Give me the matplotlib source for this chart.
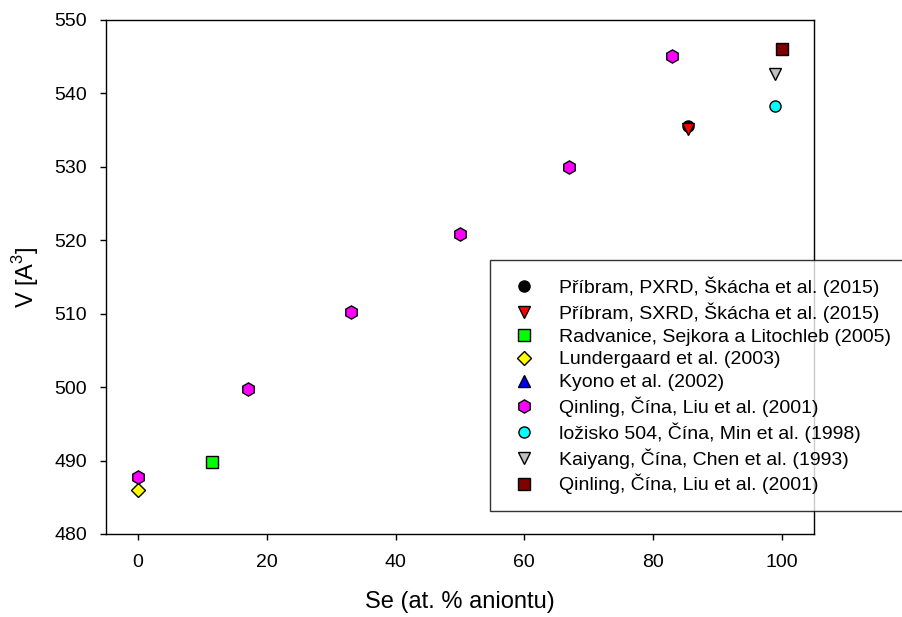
import matplotlib
matplotlib.use("Agg")
from matplotlib import pyplot as plt

plt.rcParams['font.family'] = ['Liberation Sans', 'DejaVu Sans']
plt.rcParams['mathtext.fontset'] = 'custom'
plt.rcParams['mathtext.rm'] = 'Liberation Sans'

# Se content (at. % of anions) and unit-cell volume V
pxrd_x, pxrd_v = [85.5], [535.5]
sxrd_x, sxrd_v = [85.5], [535.2]
radv_x, radv_v = [11.5], [489.8]
lund_x, lund_v = [0.0], [486.0]
kyono_x, kyono_v = [], []
qin_x = [0, 17, 33, 50, 67, 83]
qin_v = [487.7, 499.8, 510.3, 520.9, 530.0, 545.1]
min_x, min_v = [99.0], [538.3]
chen_x, chen_v = [99.0], [542.6]
qin2_x, qin2_v = [100.0], [546.0]

series = [
    (pxrd_x, pxrd_v, 'o', 'black', 8, u'Příbram, PXRD, Škácha et al. (2015)'),
    (sxrd_x, sxrd_v, 'v', 'red', 8.5, u'Příbram, SXRD, Škácha et al. (2015)'),
    (radv_x, radv_v, 's', '#00ff00', 8, u'Radvanice, Sejkora a Litochleb (2005)'),
    (lund_x, lund_v, 'D', 'yellow', 7, u'Lundergaard et al. (2003)'),
    (kyono_x, kyono_v, '^', 'blue', 8.5, u'Kyono et al. (2002)'),
    (qin_x, qin_v, 'h', 'magenta', 9.5, u'Qinling, Čína, Liu et al. (2001)'),
    (min_x, min_v, 'o', 'cyan', 8, u'ložisko 504, Čína, Min et al. (1998)'),
    (chen_x, chen_v, 'v', '#c0c0c0', 8.5, u'Kaiyang, Čína, Chen et al. (1993)'),
    (qin2_x, qin2_v, 's', '#800000', 8, u'Qinling, Čína, Liu et al. (2001)'),
]

fig = plt.figure(figsize=(9.03, 6.17), dpi=100)
ax = fig.add_axes([106/903, 1-534/617, (814-106)/903, (534-20)/617])

for x, v, m, c, ms, lab in series:
    ax.plot(x, v, linestyle='none', marker=m, markersize=ms,
            markerfacecolor=c, markeredgecolor='black', markeredgewidth=1,
            label=lab)

ax.set_xlim(-5, 105)
ax.set_ylim(480, 550)
ax.set_xticks([0, 20, 40, 60, 80, 100])
ax.set_yticks(range(480, 551, 10))
ax.tick_params(direction='out', length=4.5, width=1, labelsize=14)
ax.tick_params(axis='x', pad=10)
ax.tick_params(axis='y', pad=9)
for sp in ax.spines.values():
    sp.set_linewidth(1)

ax.set_xlabel('Se (at. % aniontu)', fontsize=17, labelpad=14)
ax.set_ylabel(r'V [A$^3$]', fontsize=17, labelpad=10)

leg = ax.legend(loc='upper left', bbox_to_anchor=(490/903, 1-260/617),
                bbox_transform=fig.transFigure, fontsize=14,
                frameon=True, fancybox=False, edgecolor='black',
                borderpad=0.85, labelspacing=0.27, handlelength=1.8,
                handletextpad=0.9, borderaxespad=0)
leg.get_frame().set_linewidth(1)

fig.savefig('out.png', dpi=100)
